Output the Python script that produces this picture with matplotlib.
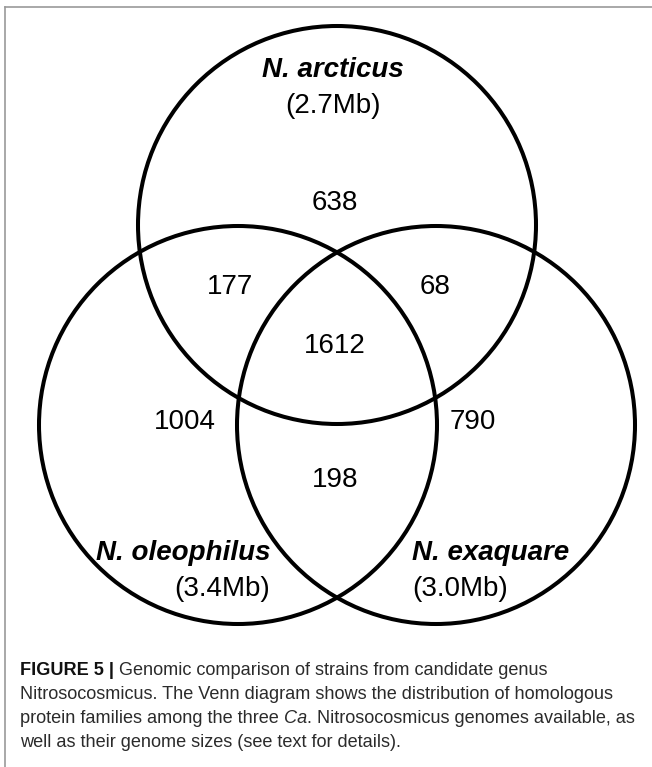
import matplotlib
matplotlib.use("Agg")
import matplotlib.pyplot as plt
from matplotlib.patches import Circle

# ---- data ----
set_names = ["N. arcticus", "N. oleophilus", "N. exaquare"]
genome_sizes = ["(2.7Mb)", "(3.4Mb)", "(3.0Mb)"]
region_keys = ["A", "B", "C", "AB", "AC", "BC", "ABC"]
region_counts = [638, 1004, 790, 177, 68, 198, 1612]
caption_lines = [
    [("FIGURE 5 | ", "bold", "normal"), ("Genomic comparison of strains from candidate genus", "normal", "normal")],
    [("Nitrosocosmicus. The Venn diagram shows the distribution of homologous", "normal", "normal")],
    [("protein families among the three ", "normal", "normal"), ("Ca", "normal", "italic"),
     (". Nitrosocosmicus genomes available, as", "normal", "normal")],
    [("well as their genome sizes (see text for details).", "normal", "normal")],
]

# ---- layout (pixel space) ----
W, H = 652, 767
fig = plt.figure(figsize=(W / 100, H / 100), dpi=100)
ax = fig.add_axes([0, 0, 1, 1])
ax.set_xlim(0, W)
ax.set_ylim(H, 0)
ax.axis("off")

# frame lines
ax.plot([5, W], [7, 7], color="#9a9a9a", lw=1.2)
ax.plot([5, 5], [7, H], color="#9a9a9a", lw=1.2)

R = 199
centers = {"A": (337, 225), "B": (238, 425), "C": (436, 425)}
for k in ["A", "B", "C"]:
    ax.add_patch(Circle(centers[k], R, fill=False, lw=2.9, ec="black"))

fam = ["Liberation Sans", "DejaVu Sans"]
num_pos = {"A": (335, 203), "B": (185, 422), "C": (473, 422), "AB": (230, 287),
           "AC": (435, 287), "BC": (335, 480), "ABC": (335, 346)}
for key, cnt in zip(region_keys, region_counts):
    x, y = num_pos[key]
    ax.text(x, y, str(cnt), ha="center", va="center", fontsize=20, family=fam)

# set labels
lab = [((333, 70), "center", (333, 106), "center"),
       ((270, 553), "right", (270, 589), "right"),
       ((412, 553), "left", (412, 589), "left")]
for name, size, (p1, ha1, p2, ha2) in zip(set_names, genome_sizes, lab):
    ax.text(p1[0], p1[1], name, ha=ha1, va="center", fontsize=20, family=fam,
            fontweight="bold", fontstyle="italic")
    ax.text(p2[0], p2[1], size, ha=ha2, va="center", fontsize=20, family=fam)

# caption
fig.canvas.draw()
rend = fig.canvas.get_renderer()
cap_fs = 13.1
cap_y = [675, 699, 723, 747]
for line, y in zip(caption_lines, cap_y):
    x = 20
    for txt, wt, st in line:
        t = ax.text(x, y, txt, ha="left", va="baseline", fontsize=cap_fs, family=fam,
                    fontweight=wt, fontstyle=st, color="#2b2b2b" if wt == "normal" else "#111111")
        bb = t.get_window_extent(renderer=rend)
        x += bb.width

fig.savefig("out.png", dpi=100)
